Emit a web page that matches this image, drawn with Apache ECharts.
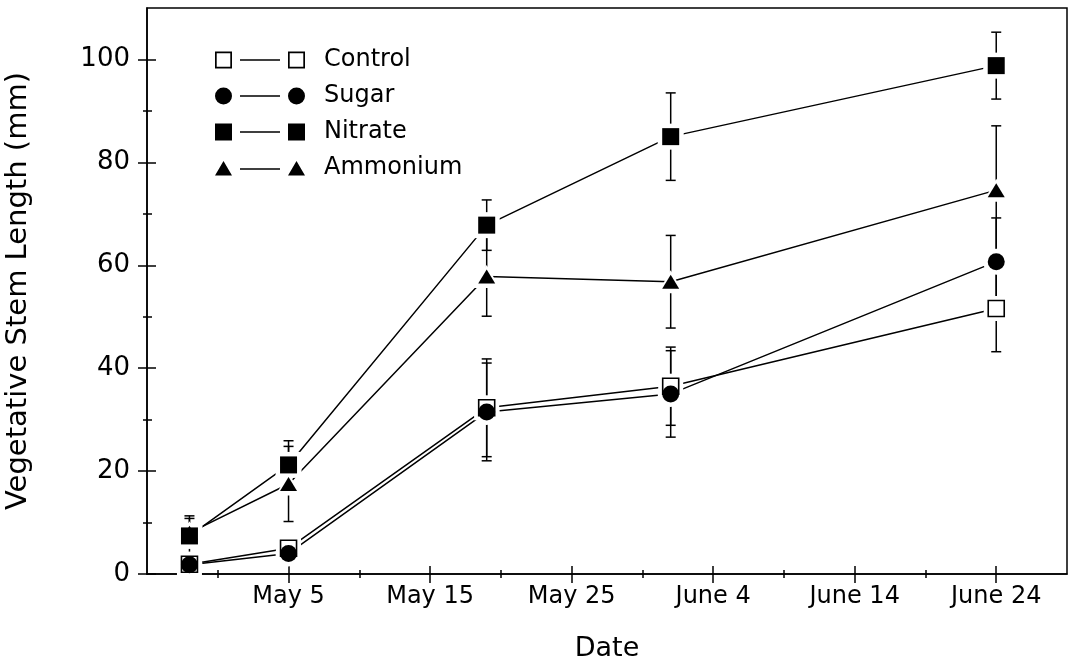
<!DOCTYPE html>
<html>
<head>
<meta charset="utf-8">
<script src="https://cdn.jsdelivr.net/npm/echarts@6/dist/echarts.min.js"></script>
<style>
html,body{margin:0;padding:0;background:#fff;}
#chart{width:1077px;height:665px;}
</style>
</head>
<body>
<div id="chart"></div>
<script>
// ---- data (x = days after May 5) ----
const sampleDays = [-7, 0, 14, 27, 50];
const tickDays = [0, 10, 20, 30, 40, 50];
const tickLabels = ['May 5', 'May 15', 'May 25', 'June 4', 'June 14', 'June 24'];
const minorTickDays = [-5, 5, 15, 25, 35, 45];
const yTicks = [0, 20, 40, 60, 80, 100];
const yMinorTicks = [10, 30, 50, 70, 90];

const control     = [1.9, 5.0, 32.3, 36.5, 51.6];
const controlErr  = [0.8, 0.8, 9.5, 7.6, 8.4];
const sugar       = [1.8, 4.0, 31.5, 35.0, 60.7];
const sugarErr    = [0.8, 0.8, 9.5, 8.4, 8.5];
const nitrate     = [7.4, 21.2, 67.8, 85.0, 98.8];
const nitrateErr  = [3.9, 4.7, 4.9, 8.5, 6.5];
const ammonium    = [8.0, 17.5, 57.8, 56.8, 74.6];
const ammoniumErr = [2.8, 7.3, 7.7, 9.0, 12.5];

const seriesNames = ['Control', 'Sugar', 'Nitrate', 'Ammonium'];
const seriesVals = [control, sugar, nitrate, ammonium];
const seriesErrs = [controlErr, sugarErr, nitrateErr, ammoniumErr];

// ---- styles ----
const FONT = 'DejaVu Sans';
const BLACK = '#000';
const symbols = ['rect', 'circle', 'rect', 'triangle'];
const symSizes = [[16, 16], [17, 17], [17, 17], [17, 14]];
const symStyles = [
  {color: '#fff', borderColor: BLACK, borderWidth: 1.6, opacity: 1},
  {color: BLACK, borderWidth: 0, opacity: 1},
  {color: BLACK, borderWidth: 0, opacity: 1},
  {color: BLACK, borderWidth: 0, opacity: 1}
];
const legendIcons = [
  'path://M0 0 L17 0 L17 17 L0 17 Z M1.7 1.7 L1.7 15.3 L15.3 15.3 L15.3 1.7 Z M25 7.75 L65 7.75 L65 9.25 L25 9.25 Z M73 0 L90 0 L90 17 L73 17 Z M74.7 1.7 L74.7 15.3 L88.3 15.3 L88.3 1.7 Z',
  'path://M0 8.5 A8.5 8.5 0 1 1 17 8.5 A8.5 8.5 0 1 1 0 8.5 Z M25 7.75 L65 7.75 L65 9.25 L25 9.25 Z M73 8.5 A8.5 8.5 0 1 1 90 8.5 A8.5 8.5 0 1 1 73 8.5 Z',
  'path://M0 0 L17 0 L17 17 L0 17 Z M25 7.75 L65 7.75 L65 9.25 L25 9.25 Z M73 0 L90 0 L90 17 L73 17 Z',
  'path://M0 16 L8.5 1.5 L17 16 Z M25 8.75 L65 8.75 L65 10.25 L25 10.25 Z M73 16 L81.5 1.5 L90 16 Z M0 17 L0.01 17 L0 17 Z M0 0 L0.01 0 L0 0 Z'
];

const X_MIN = -10, X_MAX = 55, Y_MIN = 0, Y_MAX = 110;

function pts(vals) { return sampleDays.map((d, i) => [d, vals[i]]); }

const series = [];
// marker series first (legend picks first series by name)
seriesNames.forEach((name, k) => {
  series.push({
    name: name, type: 'scatter', z: 5,
    data: pts(seriesVals[k]),
    symbol: symbols[k], symbolSize: symSizes[k],
    itemStyle: symStyles[k],
    emphasis: {disabled: true},
    silent: true, animation: false
  });
});
// white halos
seriesNames.forEach((name, k) => {
  series.push({
    type: 'scatter', z: 4,
    data: pts(seriesVals[k]),
    symbol: symbols[k], symbolSize: [symSizes[k][0] + 9, symSizes[k][1] + 9],
    itemStyle: {color: '#fff', opacity: 1},
    emphasis: {disabled: true},
    silent: true, animation: false
  });
});
// connecting lines
seriesNames.forEach((name, k) => {
  series.push({
    type: 'line', z: 2,
    data: pts(seriesVals[k]),
    showSymbol: false, symbol: 'none',
    lineStyle: {color: BLACK, width: 1.5},
    silent: true, animation: false
  });
});
// error bars
seriesNames.forEach((name, k) => {
  series.push({
    type: 'custom', z: 2,
    data: sampleDays.map((d, i) => [d, seriesVals[k][i] - seriesErrs[k][i], seriesVals[k][i] + seriesErrs[k][i]]),
    encode: {x: 0, y: [1, 2]},
    silent: true, animation: false,
    renderItem: function (params, api) {
      const x = api.value(0);
      const lo = api.coord([x, api.value(1)]);
      const hi = api.coord([x, api.value(2)]);
      const c = 5;
      const st = {stroke: BLACK, lineWidth: 1.5, fill: null};
      return {
        type: 'group',
        children: [
          {type: 'line', shape: {x1: lo[0], y1: lo[1], x2: hi[0], y2: hi[1]}, style: st},
          {type: 'line', shape: {x1: lo[0] - c, y1: lo[1], x2: lo[0] + c, y2: lo[1]}, style: st},
          {type: 'line', shape: {x1: hi[0] - c, y1: hi[1], x2: hi[0] + c, y2: hi[1]}, style: st}
        ]
      };
    }
  });
});

function tickAxisX(values, offset, len) {
  return {
    type: 'value', position: 'bottom', min: X_MIN, max: X_MAX, interval: 5, offset: offset,
    axisLine: {show: false, onZero: false}, splitLine: {show: false}, axisLabel: {show: false},
    axisTick: {show: true, inside: false, length: len, customValues: values, lineStyle: {color: BLACK, width: 1.5}}
  };
}
function tickAxisY(values, offset, len) {
  return {
    type: 'value', position: 'left', min: Y_MIN, max: Y_MAX, interval: 10, offset: offset,
    axisLine: {show: false, onZero: false}, splitLine: {show: false}, axisLabel: {show: false},
    axisTick: {show: true, inside: false, length: len, customValues: values, lineStyle: {color: BLACK, width: 1.5}}
  };
}

const option = {
  backgroundColor: '#fff',
  animation: false,
  textStyle: {fontFamily: FONT, color: BLACK},
  grid: {
    left: 147, right: 10, top: 8, bottom: 91,
    show: true, borderColor: BLACK, borderWidth: 1.5, backgroundColor: 'transparent',
    containLabel: false, outerBoundsMode: 'none'
  },
  legend: {
    orient: 'vertical', left: 215, top: 48, padding: 0,
    itemWidth: 90, itemHeight: 17, itemGap: 12,
    selectedMode: false,
    data: seriesNames.map((n, k) => ({name: n, icon: legendIcons[k]})),
    itemStyle: {color: BLACK, borderWidth: 0, opacity: 1},
    textStyle: {fontFamily: FONT, fontSize: 24, color: BLACK, padding: [0, 0, 0, 14]}
  },
  xAxis: [
    {
      type: 'value', position: 'bottom', min: X_MIN, max: X_MAX, interval: 5,
      name: 'Date', nameLocation: 'middle', nameGap: 61,
      nameTextStyle: {fontFamily: FONT, fontSize: 27, color: BLACK},
      axisLine: {show: true, onZero: false, lineStyle: {color: BLACK, width: 1.5}},
      axisTick: {show: false},
      splitLine: {show: false},
      axisLabel: {
        show: true, margin: 11, fontFamily: FONT, fontSize: 24, color: BLACK,
        hideOverlap: false, customValues: tickDays,
        formatter: function (v) { const i = tickDays.indexOf(v); return i >= 0 ? tickLabels[i] : ''; }
      }
    },
    tickAxisX(tickDays, -8, 17),
    tickAxisX(minorTickDays, -4, 8)
  ],
  yAxis: [
    {
      type: 'value', position: 'left', min: Y_MIN, max: Y_MAX, interval: 10,
      name: 'Vegetative Stem Length (mm)', nameLocation: 'middle', nameGap: 114, nameRotate: 90,
      nameTextStyle: {fontFamily: FONT, fontSize: 29, color: BLACK},
      axisLine: {show: true, onZero: false, lineStyle: {color: BLACK, width: 1.5}},
      axisTick: {show: false},
      splitLine: {show: false},
      axisLabel: {
        show: true, margin: 17, fontFamily: FONT, fontSize: 26, color: BLACK,
        hideOverlap: false, customValues: yTicks,
        formatter: function (v) { return yTicks.indexOf(v) >= 0 ? String(v) : ''; }
      }
    },
    tickAxisY(yTicks, -9, 18),
    tickAxisY(yMinorTicks, -5, 9)
  ],
  series: series
};

const chart = echarts.init(document.getElementById('chart'), null, {renderer: 'canvas'});
chart.setOption(option);
</script>
</body>
</html>
